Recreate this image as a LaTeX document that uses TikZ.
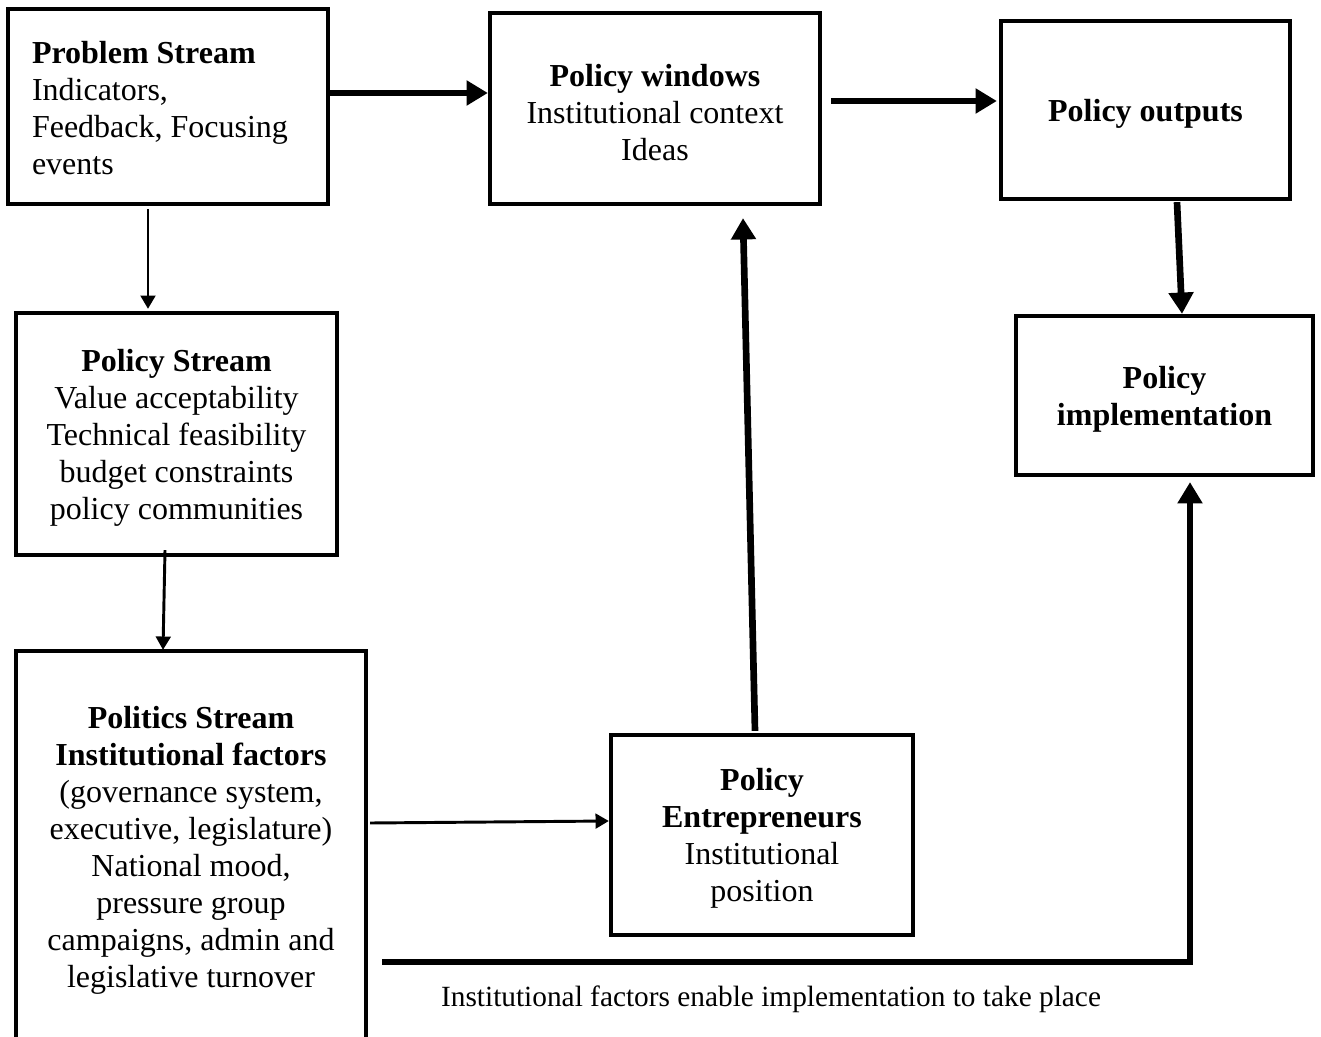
\documentclass[tikz,border=0pt]{standalone}
\usepackage{fontspec}
\setmainfont{Liberation Serif}
\usetikzlibrary{arrows.meta, positioning, calc}
\newcommand{\pxu}{0.75pt}
\newcommand{\topstrut}{\rule{0pt}{22pt}}

\begin{document}
\begin{tikzpicture}[
    x=0.75pt, y=-0.75pt,
    font=\fontsize{24}{27.75}\selectfont,
    boxnode/.style={draw=black, line width=3.2pt, align=center, inner sep=0pt},
    thickarrow/.style={line width=5pt, -{Triangle[length=16pt, width=18pt]}},
    thinarrow/.style={line width=2.2pt, -{Triangle[length=10pt, width=11pt]}},
    notenode/.style={font=\fontsize{22}{25}\selectfont, anchor=center}
]

% --- frame of the page ---
\clip (0,0) rectangle (1321,1037);

% --- 1. TOP ROW ---
\node[boxnode, align=flush left, inner xsep=18pt, text width={272*\pxu},
      minimum height={195*\pxu}] (PROB) at (168, 106.5)
    {\rule{0pt}{19pt}\textbf{Problem Stream}\\Indicators,\\Feedback, Focusing\\events};

\node[boxnode, minimum width={330*\pxu}, minimum height={191*\pxu}] (WIN) at (655, 108.5)
    {\topstrut\textbf{Policy windows}\\Institutional context\\Ideas};

\node[boxnode, minimum width={289*\pxu}, minimum height={178*\pxu}] (OUT) at (1145.5, 110)
    {\topstrut\textbf{Policy outputs}};

% --- 2. MIDDLE ROW ---
\node[boxnode, minimum width={321*\pxu}, minimum height={242*\pxu}] (PST) at (176.5, 434)
    {\topstrut\textbf{Policy Stream}\\Value acceptability\\Technical feasibility\\budget constraints\\policy communities};

\node[boxnode, minimum width={297*\pxu}, minimum height={159*\pxu}] (IMPL) at (1164.5, 395.5)
    {\topstrut\textbf{Policy}\\\textbf{implementation}};

% --- 3. BOTTOM ROW ---
\node[boxnode, minimum width={350*\pxu}, minimum height={392*\pxu}] (POL) at (191, 847)
    {\topstrut\textbf{Politics Stream}\\\textbf{Institutional factors}\\(governance system,\\executive, legislature)\\National mood,\\pressure group\\campaigns, admin and\\legislative turnover};

\node[boxnode, minimum width={302*\pxu}, minimum height={200*\pxu}] (ENT) at (762, 835)
    {\topstrut\textbf{Policy}\\\textbf{Entrepreneurs}\\Institutional\\position};

\node[notenode] (NOTE) at (771, 999)
    {Institutional factors enable implementation to take place};

% --- 4. CONNECTORS ---
\draw[thickarrow] ($(PROB.east)+(0,-13.5)$) -- ($(WIN.west)+(0,-15.5)$);
\draw[thickarrow] ($(WIN.east)+(9,-7.5)$) -- ($(OUT.west)+(-2,-9)$);
\draw[thickarrow] ($(OUT.south)+(31.5,1)$) -- ($(IMPL.north)+(17.5,0)$);
\draw[thinarrow] ($(PROB.south)+(-20,3)$) -- ($(PST.north)+(-28.5,-2)$);
\draw[thinarrow] ($(PST.south)+(-11.5,-7)$) -- ($(POL.north)+(-28,1)$);
\draw[thinarrow] ($(POL.east)+(2,-24)$) -- ($(ENT.west)+(0,-14)$);
\draw[thickarrow] ($(ENT.north)+(-7,-2)$) -- ($(WIN.south)+(88,12)$);
\draw[thickarrow] ($(POL.east)+(14,115)$) -| ($(IMPL.south)+(25.5,5)$);

\end{tikzpicture}
\end{document}
